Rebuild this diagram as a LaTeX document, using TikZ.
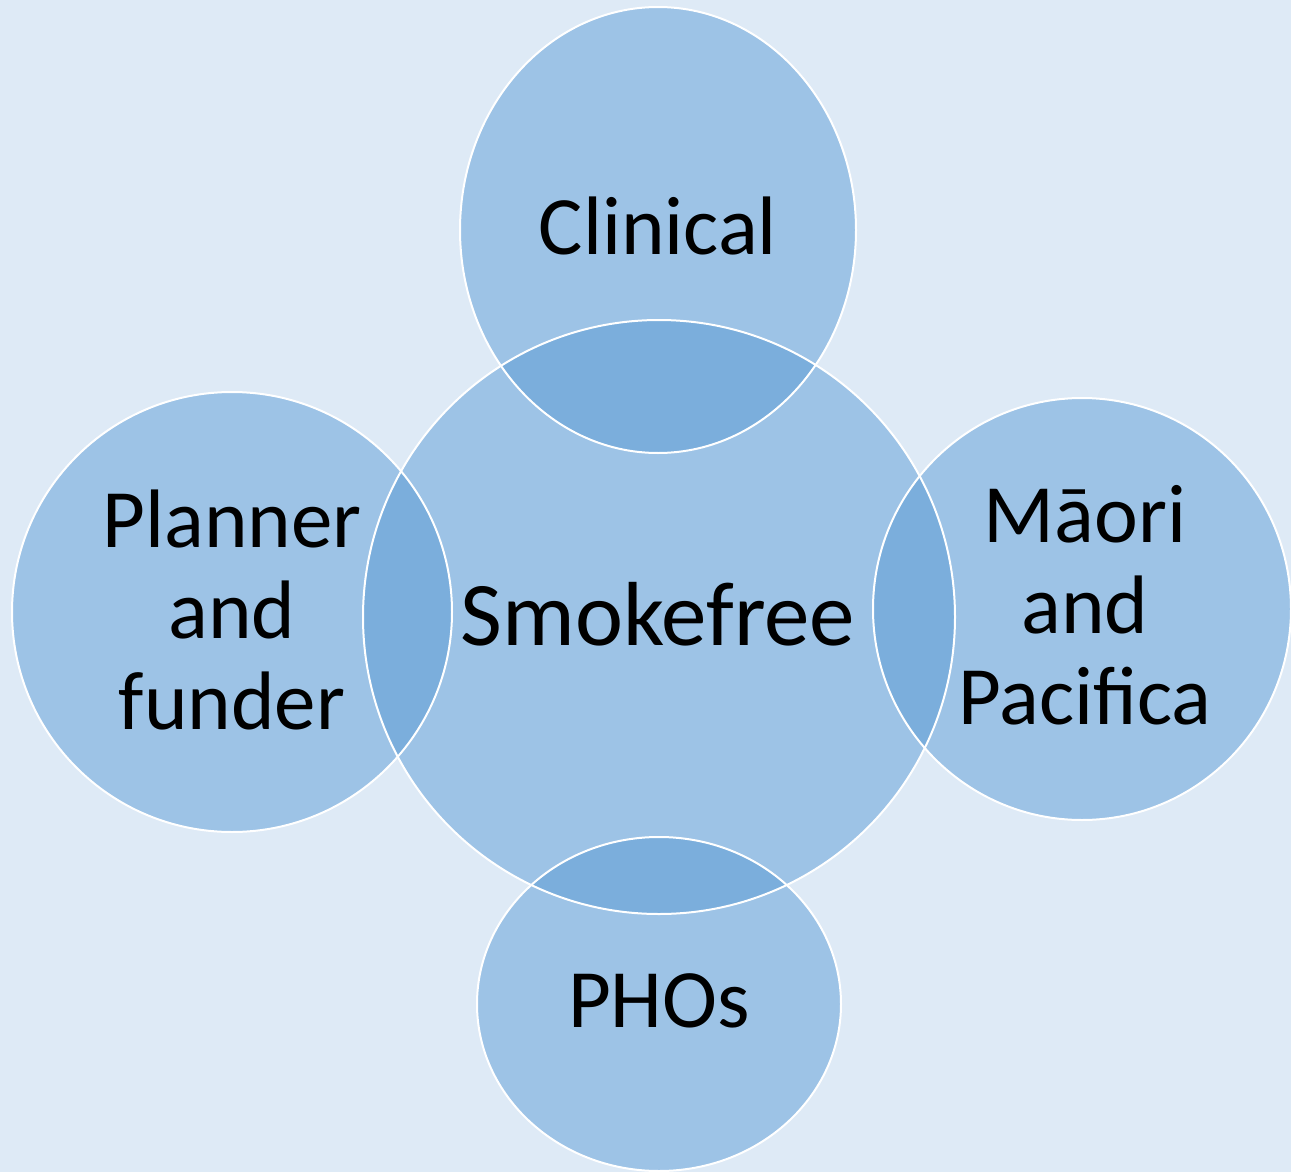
\documentclass[tikz,border=0pt]{standalone}
\usepackage{fontspec}
\setmainfont{Carlito}
\definecolor{bgblue}{HTML}{DEEAF6}
\definecolor{petal}{HTML}{9DC3E6}
\definecolor{overlap}{HTML}{7BAEDC}
\begin{document}
\begin{tikzpicture}[x=1pt,y=-1pt,
  lbl/.style={font=\fontsize{83}{91}\selectfont, align=center, text=black, inner sep=0pt},
  hublbl/.style={lbl, font=\fontsize{91}{100}\selectfont},
  rim/.style={draw=white, line width=2pt}]
\useasboundingbox (0,0) rectangle (1291,1172);
\fill[bgblue] (0,0) rectangle (1291,1172);
% circles: centre, radii
\def\hub{(659,617) ellipse [x radius=296, y radius=297]}
\def\top{(658,230) ellipse [x radius=198, y radius=223]}
\def\lft{(232,612) ellipse [x radius=220, y radius=220]}
\def\rgt{(1082,609) ellipse [x radius=209, y radius=211]}
\def\bot{(659,1004) ellipse [x radius=182, y radius=167]}
% fills
\foreach \c in {\hub,\top,\lft,\rgt,\bot}{\fill[petal] \c;}
% overlap regions
\foreach \c in {\top,\lft,\rgt,\bot}{
  \begin{scope}
    \clip \hub;
    \fill[overlap] \c;
  \end{scope}
}
% outlines
\foreach \c in {\hub,\top,\lft,\rgt,\bot}{\draw[rim] \c;}
% labels
\node[hublbl] (hubL) at (658,614) {Smokefree};
\node[lbl] (topL) at (658,226) {Clinical};
\node[lbl] (lftL) at (232,610) {Planner\\and\\funder};
\node[lbl] (rgtL) at (1085,605) {Māori\\and\\Pacifica};
\node[lbl] (botL) at (659,1001) {PHOs};
\end{tikzpicture}
\end{document}
